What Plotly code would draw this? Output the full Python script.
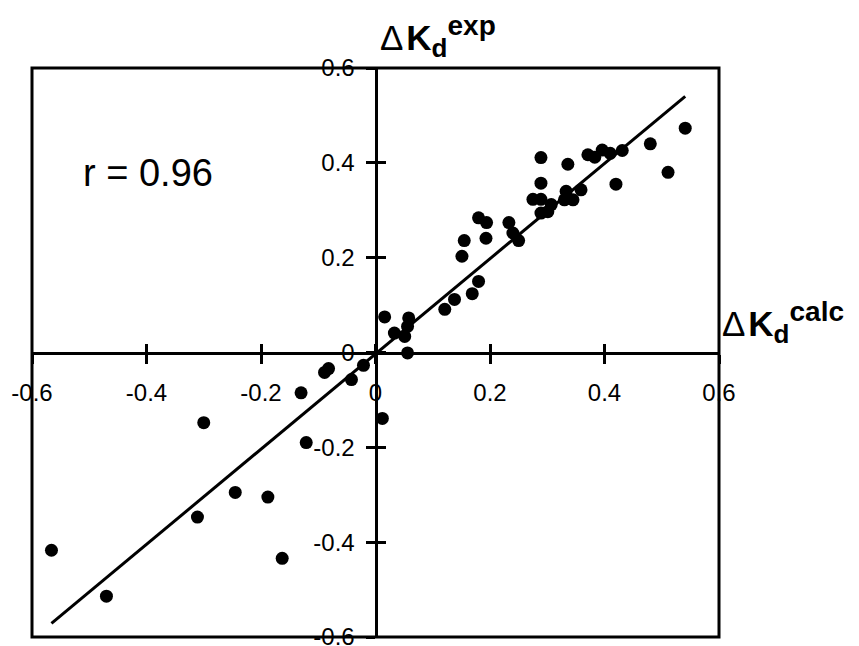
import plotly.graph_objects as go

# Data
dk_calc = [-0.566, -0.470, -0.300, -0.311, -0.245, -0.188, -0.163, -0.130, -0.121,
           -0.082, -0.089, -0.042, -0.021, 0.012,
           0.016, 0.033, 0.058, 0.056, 0.051, 0.056,
           0.121, 0.138, 0.169, 0.180, 0.151, 0.155, 0.180, 0.194, 0.193,
           0.233, 0.240, 0.250, 0.275, 0.289, 0.289, 0.289, 0.289, 0.301, 0.307,
           0.333, 0.336, 0.330, 0.345, 0.359, 0.371, 0.383, 0.396, 0.410, 0.431,
           0.420, 0.480, 0.511, 0.541]
dk_exp = [-0.417, -0.514, -0.148, -0.347, -0.295, -0.305, -0.434, -0.085, -0.190,
          -0.034, -0.042, -0.057, -0.027, -0.139,
          0.075, 0.041, 0.073, 0.055, 0.034, -0.001,
          0.091, 0.112, 0.124, 0.150, 0.203, 0.236, 0.284, 0.274, 0.241,
          0.274, 0.252, 0.236, 0.323, 0.323, 0.357, 0.411, 0.294, 0.297, 0.312,
          0.340, 0.397, 0.322, 0.322, 0.343, 0.417, 0.412, 0.427, 0.420, 0.426,
          0.355, 0.440, 0.380, 0.473]

fit_slope = 1.004
fit_intercept = -0.003
r_value = 0.96

tick_vals = [-0.6, -0.4, -0.2, 0, 0.2, 0.4, 0.6]
tick_text = ["-0.6", "-0.4", "-0.2", "0", "0.2", "0.4", "0.6"]
axis_range = [-0.6, 0.6]

FONT = "Liberation Sans, Arial, sans-serif"

fit_x = [min(dk_calc), max(dk_calc)]
fit_y = [fit_slope * v + fit_intercept for v in fit_x]

fig = go.Figure()
fig.add_trace(go.Scatter(x=fit_x, y=fit_y, mode="lines", xaxis="x2", yaxis="y2",
                         line=dict(color="black", width=3),
                         showlegend=False, hoverinfo="skip"))
fig.add_trace(go.Scatter(x=dk_calc, y=dk_exp, mode="markers", xaxis="x", yaxis="y",
                         marker=dict(color="black", size=13),
                         showlegend=False))

common = dict(range=axis_range, anchor="free", position=0.5, automargin=False,
              showgrid=False, zeroline=False, tickvals=tick_vals,
              ticktext=tick_text, tickwidth=3, tickcolor="black", ticklen=9)

fig.update_layout(
    width=859, height=646,
    margin=dict(l=32, r=140, t=68, b=9),
    paper_bgcolor="white", plot_bgcolor="rgba(0,0,0,0)",
    font=dict(family=FONT, color="black"),
    xaxis=dict(side="bottom", ticks="outside", showline=True, linewidth=3,
               linecolor="black", tickfont=dict(size=24, family=FONT, color="black"),
               ticklabelstandoff=9, ticklabeloverflow="allow", **common),
    yaxis=dict(side="left", ticks="outside", showline=True, linewidth=3,
               linecolor="black", tickfont=dict(size=24, family=FONT, color="black"),
               ticklabelstandoff=6, ticklabeloverflow="allow", **common),
    xaxis2=dict(overlaying="x", side="bottom", ticks="inside",
                showline=False, showticklabels=False, **common),
    yaxis2=dict(overlaying="y", side="left", ticks="inside",
                showline=False, showticklabels=False, **common),
    showlegend=False,
)

# frame around the plotting area
fig.add_shape(type="rect", xref="paper", yref="paper", x0=0, x1=1, y0=0, y1=1,
              line=dict(color="black", width=3), layer="above")

label_tpl = ("Δ\u200a<b>K<sub><span style='font-size:26px'>d</span></sub>"
             "<sup><span style='font-size:28px'>{}</span></sup></b>")
fig.add_annotation(text=label_tpl.format("exp"),
                   xref="paper", yref="paper", x=0.503, y=1.005,
                   xanchor="left", yanchor="bottom", showarrow=False,
                   font=dict(size=35, family=FONT, color="black"))
fig.add_annotation(text=label_tpl.format("calc"),
                   xref="paper", yref="paper", x=1.001, y=0.503,
                   xanchor="left", yanchor="bottom", showarrow=False,
                   font=dict(size=35, family=FONT, color="black"))
fig.add_annotation(text=f"r = {r_value:.2f}",
                   xref="paper", yref="paper", x=0.071, y=0.816,
                   xanchor="left", yanchor="middle", showarrow=False,
                   font=dict(size=38, family=FONT, color="black"))

fig.write_html("out.html", config={"displayModeBar": False},
               post_script="document.body.style.margin='0px';")
